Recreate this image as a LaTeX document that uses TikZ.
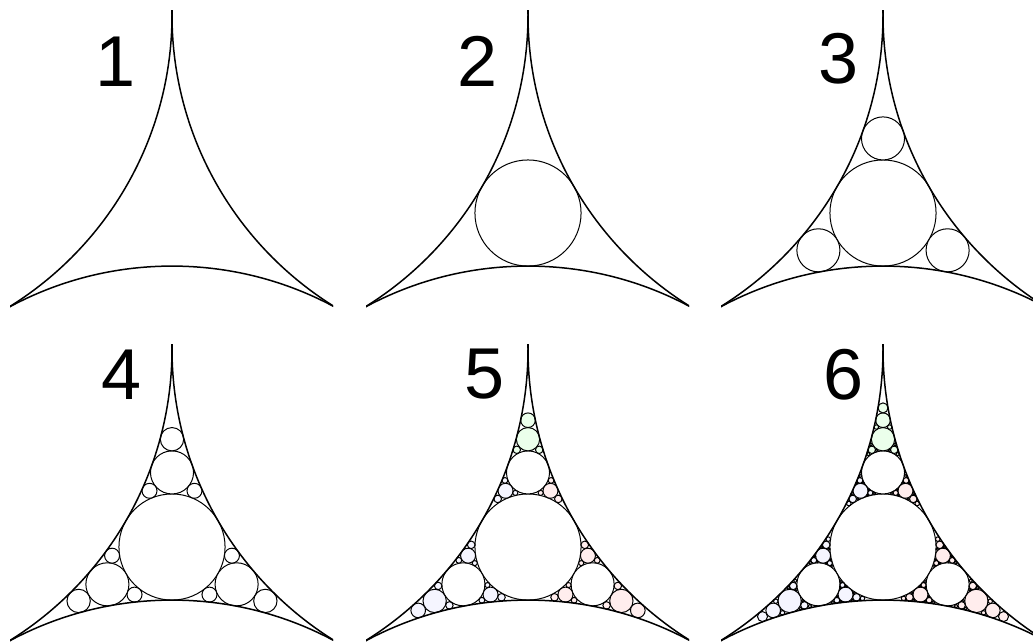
\documentclass[tikz,border=0pt]{standalone}
\usepackage{fontspec}
\setmainfont{Liberation Sans}
\usepackage{xfp}

\colorlet{tintTop}{green!8}
\colorlet{tintRight}{red!7}
\colorlet{tintLeft}{blue!4}
\tikzset{
  outerarc/.style={draw=black, line width=1.5pt},
  gcirc/.style={draw=black, line width=1.0pt},
  lab/.style={inner sep=0pt, anchor=base, font=\fontsize{72}{72}\selectfont}
}

% scale: one unit (outer radius) = 343 pt
\def\apS{343}
\def\apTint{0}

\def\apGobbleFour#1#2#3#4{}
\def\apReadA#1,#2,#3\relax{\def\apxa{#1}\def\apya{#2}\def\apra{#3}}
\def\apReadB#1,#2,#3\relax{\def\apxb{#1}\def\apyb{#2}\def\aprb{#3}}
\def\apReadC#1,#2,#3\relax{\def\apxc{#1}\def\apyc{#2}\def\aprc{#3}}

\def\apCircle#1#2#3{%
  \edef\apPX{\fpeval{round(\apox+\apS*(#1),3)}}%
  \edef\apPY{\fpeval{round(\apoy+\apS*(#2),3)}}%
  \edef\apPR{\fpeval{round(\apS*(#3),3)}}%
  \def\apFill{white}%
  \ifnum\apTint=1
    \ifnum\fpeval{((#3)<0.05)?1:0}=1
      \ifnum\fpeval{((#2)>-0.36)?1:0}=1
        \def\apFill{tintTop}%
      \else
        \ifnum\fpeval{((#1)>0)?1:0}=1
          \def\apFill{tintRight}%
        \else
          \def\apFill{tintLeft}%
        \fi
      \fi
    \fi
  \fi
  \draw[gcirc, fill=\apFill] (\apPX pt,\apPY pt) circle[radius=\apPR pt];}

\def\ApGap#1#2#3#4{%
  \ifnum#4>0 \expandafter\ApGapDo\else\expandafter\apGobbleFour\fi{#1}{#2}{#3}{#4}}

\def\ApGapDo#1#2#3#4{%
  \begingroup
  \apReadA#1\relax\apReadB#2\relax\apReadC#3\relax
  \edef\aprn{\fpeval{1/(1/\apra+1/\aprb+1/\aprc+2*sqrt(1/(\apra*\aprb)+1/(\aprb*\aprc)+1/(\aprc*\apra)))}}%
  \edef\appa{\fpeval{\apra+\aprn}}%
  \edef\appb{\fpeval{\aprb+\aprn}}%
  \edef\apdd{\fpeval{sqrt((\apxb-\apxa)^2+(\apyb-\apya)^2)}}%
  \edef\apaa{\fpeval{(\apdd^2+\appa^2-\appb^2)/(2*\apdd)}}%
  \edef\aphh{\fpeval{sqrt(max(\appa^2-\apaa^2,0))}}%
  \edef\apux{\fpeval{(\apxb-\apxa)/\apdd}}%
  \edef\apuy{\fpeval{(\apyb-\apya)/\apdd}}%
  \edef\apmx{\fpeval{\apxa+\apaa*\apux}}%
  \edef\apmy{\fpeval{\apya+\apaa*\apuy}}%
  \edef\appx{\fpeval{\apmx-\aphh*\apuy}}%
  \edef\appy{\fpeval{\apmy+\aphh*\apux}}%
  \edef\apqx{\fpeval{\apmx+\aphh*\apuy}}%
  \edef\apqy{\fpeval{\apmy-\aphh*\apux}}%
  \edef\apep{\fpeval{abs(sqrt((\appx-\apxc)^2+(\appy-\apyc)^2)-\aprc-\aprn)}}%
  \edef\apeq{\fpeval{abs(sqrt((\apqx-\apxc)^2+(\apqy-\apyc)^2)-\aprc-\aprn)}}%
  \edef\apxn{\fpeval{round((\apep<\apeq)?\appx:\apqx,9)}}%
  \edef\apyn{\fpeval{round((\apep<\apeq)?\appy:\apqy,9)}}%
  \edef\aprn{\fpeval{round(\aprn,9)}}%
  \apCircle{\apxn}{\apyn}{\aprn}%
  \edef\apNext{%
    \noexpand\ApGap{#1}{#2}{\apxn,\apyn,\aprn}{\the\numexpr#4-1\relax}%
    \noexpand\ApGap{#2}{#3}{\apxn,\apyn,\aprn}{\the\numexpr#4-1\relax}%
    \noexpand\ApGap{#1}{#3}{\apxn,\apyn,\aprn}{\the\numexpr#4-1\relax}}%
  \expandafter\endgroup\apNext}

% one panel: #1 = cusp x, #2 = cusp y (pt, y up), #3 = depth, #4 = tint flag
\def\apPanel#1#2#3#4{%
  \def\apox{#1}\def\apoy{#2}\def\apTint{#4}%
  \begin{scope}
    \clip (#1pt-162pt,#2pt-300pt) rectangle (#1pt+161pt,#2pt+4pt);
    \ApGap{-1,0,1}{1,0,1}{0,-1.7320508076,1}{#3}%
    \draw[outerarc] (#1pt-343pt,#2pt) circle[radius=343pt];
    \draw[outerarc] (#1pt+343pt,#2pt) circle[radius=343pt];
    \draw[outerarc] (#1pt,#2pt-594.09pt) circle[radius=343pt];
  \end{scope}}

\begin{document}
\begin{tikzpicture}[x=1pt,y=1pt]
  \useasboundingbox[fill=white] (0,0) rectangle (1033,642);

  \apPanel{172}{627}{0}{0}
  \apPanel{528}{627}{1}{0}
  \apPanel{883}{627}{2}{0}
  \apPanel{172}{293}{3}{0}
  \apPanel{528}{293}{4}{1}
  \apPanel{883}{293}{5}{1}

  \node[lab] (n1) at (116,555) {1};
  \node[lab] (n2) at (478,555) {2};
  \node[lab] (n3) at (839,558) {3};
  \node[lab] (n4) at (122,242) {4};
  \node[lab] (n5) at (485,243) {5};
  \node[lab] (n6) at (844,242) {6};
\end{tikzpicture}
\end{document}
